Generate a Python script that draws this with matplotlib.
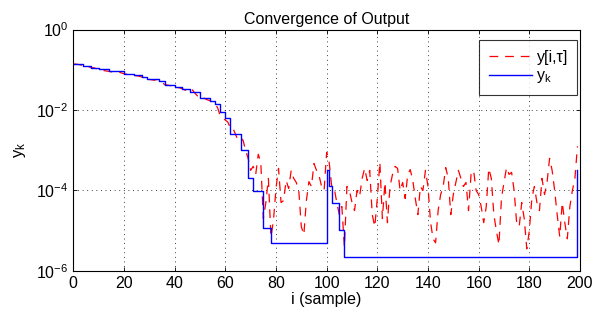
import numpy as np
import matplotlib
matplotlib.use("Agg")
import matplotlib.pyplot as plt
from matplotlib.ticker import NullLocator, MultipleLocator

plt.rcParams['font.family'] = ['Liberation Sans', 'DejaVu Sans']
plt.rcParams['mathtext.fontset'] = 'custom'
plt.rcParams['mathtext.rm'] = 'Liberation Sans'
plt.rcParams['mathtext.it'] = 'Liberation Sans:italic'
plt.rcParams['font.size'] = 11

# red dashed output y[i,tau], one value per sample (log10 of value)
samples = np.arange(200)
y_tau_log10 = [
    -0.86, -0.86, -0.87, -0.88, -0.90, -0.90, -0.92, -0.95, -0.95, -0.97,
    -0.99, -1.00, -1.02, -1.03, -1.04, -1.05, -1.06, -1.07, -1.05, -1.08,
    -1.10, -1.11, -1.12, -1.13, -1.14, -1.15, -1.16, -1.18, -1.19, -1.23,
    -1.24, -1.25, -1.26, -1.24, -1.27, -1.30, -1.37, -1.38, -1.39, -1.40,
    -1.42, -1.44, -1.45, -1.47, -1.50, -1.52, -1.55, -1.50, -1.58, -1.65,
    -1.70, -1.68, -1.72, -1.75, -1.77, -1.82, -1.85, -1.95, -2.15, -2.20,
    -2.25, -2.30, -2.45, -2.45, -2.60, -2.75, -2.70, -2.75, -3.00, -3.20,
    -3.50, -3.40, -3.60, -3.10, -3.30, -4.70, -4.30, -3.70, -5.15, -4.75,
    -3.95, -3.45, -4.30, -4.25, -3.75, -3.95, -3.50, -3.70, -3.80, -4.00,
    -4.90, -5.10, -4.25, -3.78, -3.90, -3.33, -3.50, -3.63, -3.90, -4.00,
    -3.05, -3.30, -3.90, -3.95, -4.30, -4.60, -4.40, -5.40, -3.90, -4.00,
    -4.30, -4.50, -4.00, -4.15, -3.70, -3.45, -3.75, -3.50, -4.60, -4.90,
    -4.20, -3.30, -4.70, -3.80, -4.80, -3.90, -3.60, -3.40, -3.45, -4.00,
    -3.80, -4.20, -3.60, -3.48, -3.75, -4.20, -4.60, -3.90, -4.00, -3.50,
    -3.90, -4.78, -5.20, -5.30, -4.50, -4.10, -3.90, -3.43, -3.70, -4.60,
    -4.10, -3.80, -3.50, -3.70, -3.90, -3.80, -4.50, -3.60, -3.50, -4.00,
    -4.10, -4.40, -4.80, -4.40, -3.45, -3.70, -4.60, -5.00, -5.35, -4.20,
    -3.80, -3.43, -3.60, -3.55, -4.00, -4.80, -4.90, -4.30, -4.70, -5.45,
    -5.00, -4.20, -3.90, -4.30, -4.50, -3.70, -4.10, -3.80, -3.20, -3.50,
    -4.00, -4.60, -5.15, -4.30, -4.80, -5.20, -4.40, -4.00, -3.70, -2.90,
]

# blue staircase y_k: sample where each level starts, and level (log10)
yk_start = [0, 4, 7, 10, 14, 20, 24, 27, 29, 34, 36, 40, 43, 46, 50, 54, 56,
            58, 60, 62, 66, 69, 71, 75, 78, 100, 101, 102, 105, 107, 199]
yk_log10 = [-0.86, -0.90, -0.95, -0.99, -1.04, -1.10, -1.14, -1.18, -1.23,
            -1.27, -1.37, -1.42, -1.47, -1.55, -1.70, -1.77, -1.85, -2.05,
            -2.20, -2.60, -3.00, -3.70, -4.02, -4.92, -5.31, -3.48, -3.88,
            -4.32, -4.98, -5.65, -3.50]

y_tau = 10.0 ** np.array(y_tau_log10)
y_k = 10.0 ** np.array(yk_log10)

fig = plt.figure(figsize=(5.97, 3.14), dpi=100)
ax = fig.add_axes([0.1228, 0.137, 0.8487, 0.769])

ax.plot(samples, y_tau, color='red', lw=0.9, dashes=(7, 5.5), label='y[i,τ]')
ax.step(yk_start, y_k, where='post', color='blue', lw=1.0,
        label=r'y$_{\mathrm{k}}$')

ax.set_yscale('log')
ax.set_xlim(0, 200)
ax.set_ylim(1e-6, 1e0)
ax.xaxis.set_major_locator(MultipleLocator(20))
ax.set_yticks([1e-6, 1e-4, 1e-2, 1e0])
ax.yaxis.set_minor_locator(NullLocator())

ax.grid(True, which='major', color='k', linestyle=(0, (1, 4.5)), lw=0.6)
ax.tick_params(direction='in', top=True, right=True, length=3, width=0.6,
               labelsize=11.5)
for sp in ax.spines.values():
    sp.set_linewidth(0.8)

ax.set_title('Convergence of Output', fontsize=11.5, pad=4)
ax.set_xlabel('i (sample)', fontsize=11.5, labelpad=1)
ax.set_ylabel(r'y$_{\mathrm{k}}$', fontsize=12, labelpad=6)

leg = ax.legend(loc='upper right', bbox_to_anchor=(0.995, 0.955),
                frameon=True, fancybox=False, edgecolor='k',
                handlelength=2.7, borderpad=0.6, labelspacing=0.2,
                handletextpad=0.3, borderaxespad=0.0, fontsize=11.5)
leg.get_frame().set_linewidth(0.8)

fig.savefig('out.png', dpi=100, facecolor='white')
